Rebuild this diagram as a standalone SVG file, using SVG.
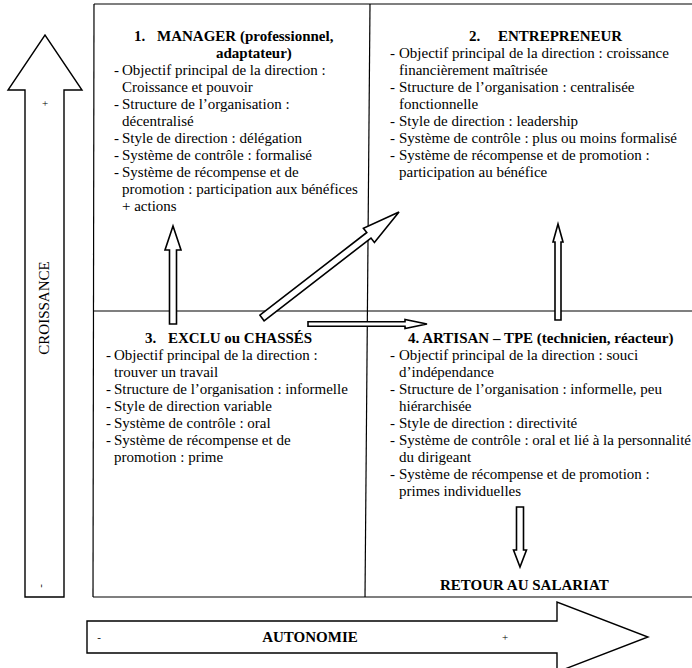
<svg xmlns="http://www.w3.org/2000/svg" width="692" height="668" viewBox="0 0 692 668">
<style>
text { font-family: "Liberation Serif", "Times New Roman", serif; font-size: 15px; fill: #000; }
.t { font-weight: bold; }
.frame { stroke: #000; stroke-width: 1.2; fill: none; }
.arr { fill: #fff; stroke: #000; stroke-width: 1.6; stroke-linejoin: miter; }
.big { fill: #fff; stroke: #000; stroke-width: 1.4; stroke-linejoin: miter; }
.sm { font-size: 11px; }
</style>
<rect width="692" height="668" fill="#fff"/>

<g id="axis-croissance">
  <polygon class="big" points="25,597 25,90 8,90 45,35 82,90 64,90 64,597"/>
  <text class="sm" x="45" y="107" text-anchor="middle">+</text>
  <text x="49" y="308" text-anchor="middle" transform="rotate(-90 49 308)">CROISSANCE</text>
  <text class="sm" x="44" y="586" text-anchor="middle" transform="rotate(-90 44 586)">-</text>
</g>

<g id="axis-autonomie">
  <polygon class="big" points="87,621 557,621 557,602 648,637 557,672 557,653 87,653"/>
  <text class="sm" x="99" y="641" text-anchor="middle">-</text>
  <text class="t" x="310" y="642" text-anchor="middle">AUTONOMIE</text>
  <text class="sm" x="505" y="641" text-anchor="middle">+</text>
</g>

<g id="frame" class="frame">
  <line x1="94" y1="4" x2="692" y2="4"/>
  <line x1="94" y1="4" x2="93" y2="597"/>
  <line x1="93" y1="597" x2="692" y2="597"/>
  <line x1="370" y1="4" x2="365" y2="597"/>
  <line x1="93" y1="311" x2="692" y2="311"/>
</g>

<g id="q1-manager">
  <text class="t" x="134" y="41">1.</text>
  <text class="t" x="157" y="41">MANAGER (professionnel,</text>
  <text class="t" x="216" y="58">adaptateur)</text>
  <text y="75"><tspan x="114">-</tspan><tspan x="122">Objectif principal de la direction :</tspan></text>
  <text x="122" y="92">Croissance et pouvoir</text>
  <text y="109"><tspan x="114">-</tspan><tspan x="122">Structure de l’organisation :</tspan></text>
  <text x="122" y="126">décentralisé</text>
  <text y="143"><tspan x="114">-</tspan><tspan x="122">Style de direction : délégation</tspan></text>
  <text y="160"><tspan x="114">-</tspan><tspan x="122">Système de contrôle : formalisé</tspan></text>
  <text y="177"><tspan x="114">-</tspan><tspan x="122">Système de récompense et de</tspan></text>
  <text x="122" y="194">promotion : participation aux bénéfices</text>
  <text x="122" y="211">+ actions</text>
</g>

<g id="q2-entrepreneur">
  <text class="t" x="469" y="41">2.</text>
  <text class="t" x="498" y="41">ENTREPRENEUR</text>
  <text y="58"><tspan x="390">-</tspan><tspan x="399">Objectif principal de la direction : croissance</tspan></text>
  <text x="399" y="75">financièrement maîtrisée</text>
  <text y="92"><tspan x="390">-</tspan><tspan x="399">Structure de l’organisation : centralisée</tspan></text>
  <text x="399" y="109">fonctionnelle</text>
  <text y="126"><tspan x="390">-</tspan><tspan x="399">Style de direction : leadership</tspan></text>
  <text y="143"><tspan x="390">-</tspan><tspan x="399">Système de contrôle : plus ou moins formalisé</tspan></text>
  <text y="160"><tspan x="390">-</tspan><tspan x="399">Système de récompense et de promotion :</tspan></text>
  <text x="399" y="177">participation au bénéfice</text>
</g>

<g id="q3-exclu">
  <text class="t" x="145" y="343">3.</text>
  <text class="t" x="168" y="343">EXCLU ou CHASSÉS</text>
  <text y="360"><tspan x="106">-</tspan><tspan x="114">Objectif principal de la direction :</tspan></text>
  <text x="114" y="377">trouver un travail</text>
  <text y="394"><tspan x="106">-</tspan><tspan x="114">Structure de l’organisation : informelle</tspan></text>
  <text y="411"><tspan x="106">-</tspan><tspan x="114">Style de direction variable</tspan></text>
  <text y="428"><tspan x="106">-</tspan><tspan x="114">Système de contrôle : oral</tspan></text>
  <text y="445"><tspan x="106">-</tspan><tspan x="114">Système de récompense et de</tspan></text>
  <text x="114" y="462">promotion : prime</text>
</g>

<g id="q4-artisan">
  <text class="t" x="408" y="343">4. ARTISAN – TPE (technicien, réacteur)</text>
  <text y="360"><tspan x="390">-</tspan><tspan x="399">Objectif principal de la direction : souci</tspan></text>
  <text x="399" y="377">d’indépendance</text>
  <text y="394"><tspan x="390">-</tspan><tspan x="399">Structure de l’organisation : informelle, peu</tspan></text>
  <text x="399" y="411">hiérarchisée</text>
  <text y="428"><tspan x="390">-</tspan><tspan x="399">Style de direction : directivité</tspan></text>
  <text y="445"><tspan x="390">-</tspan><tspan x="399">Système de contrôle : oral et lié à la personnalité</tspan></text>
  <text x="399" y="462">du dirigeant</text>
  <text y="479"><tspan x="390">-</tspan><tspan x="399">Système de récompense et de promotion :</tspan></text>
  <text x="399" y="496">primes individuelles</text>
</g>

<g id="retour-salariat">
  <text class="t" x="440" y="590">RETOUR AU SALARIAT</text>
</g>

<g id="connectors">
  <polygon class="arr" points="169.5,324 169.5,250 165,250 173,226 181,250 176.5,250 176.5,324"/>
  <polygon class="arr" points="259.9,315.2 366.8,232.5 363.4,228.2 399,212 374.4,242.4 371,238.1 264.1,320.8"/>
  <polygon class="arr" points="308,321.7 405,321.7 405,319.5 427,324 405,328.5 405,326.3 308,326.3"/>
  <polygon class="arr" points="555,320 555,242 553,242 558,224 563,242 561,242 561,320"/>
  <polygon class="arr" points="516.5,507 516.5,550 513.5,550 520,567 526.5,550 523.5,550 523.5,507"/>
</g>
</svg>
